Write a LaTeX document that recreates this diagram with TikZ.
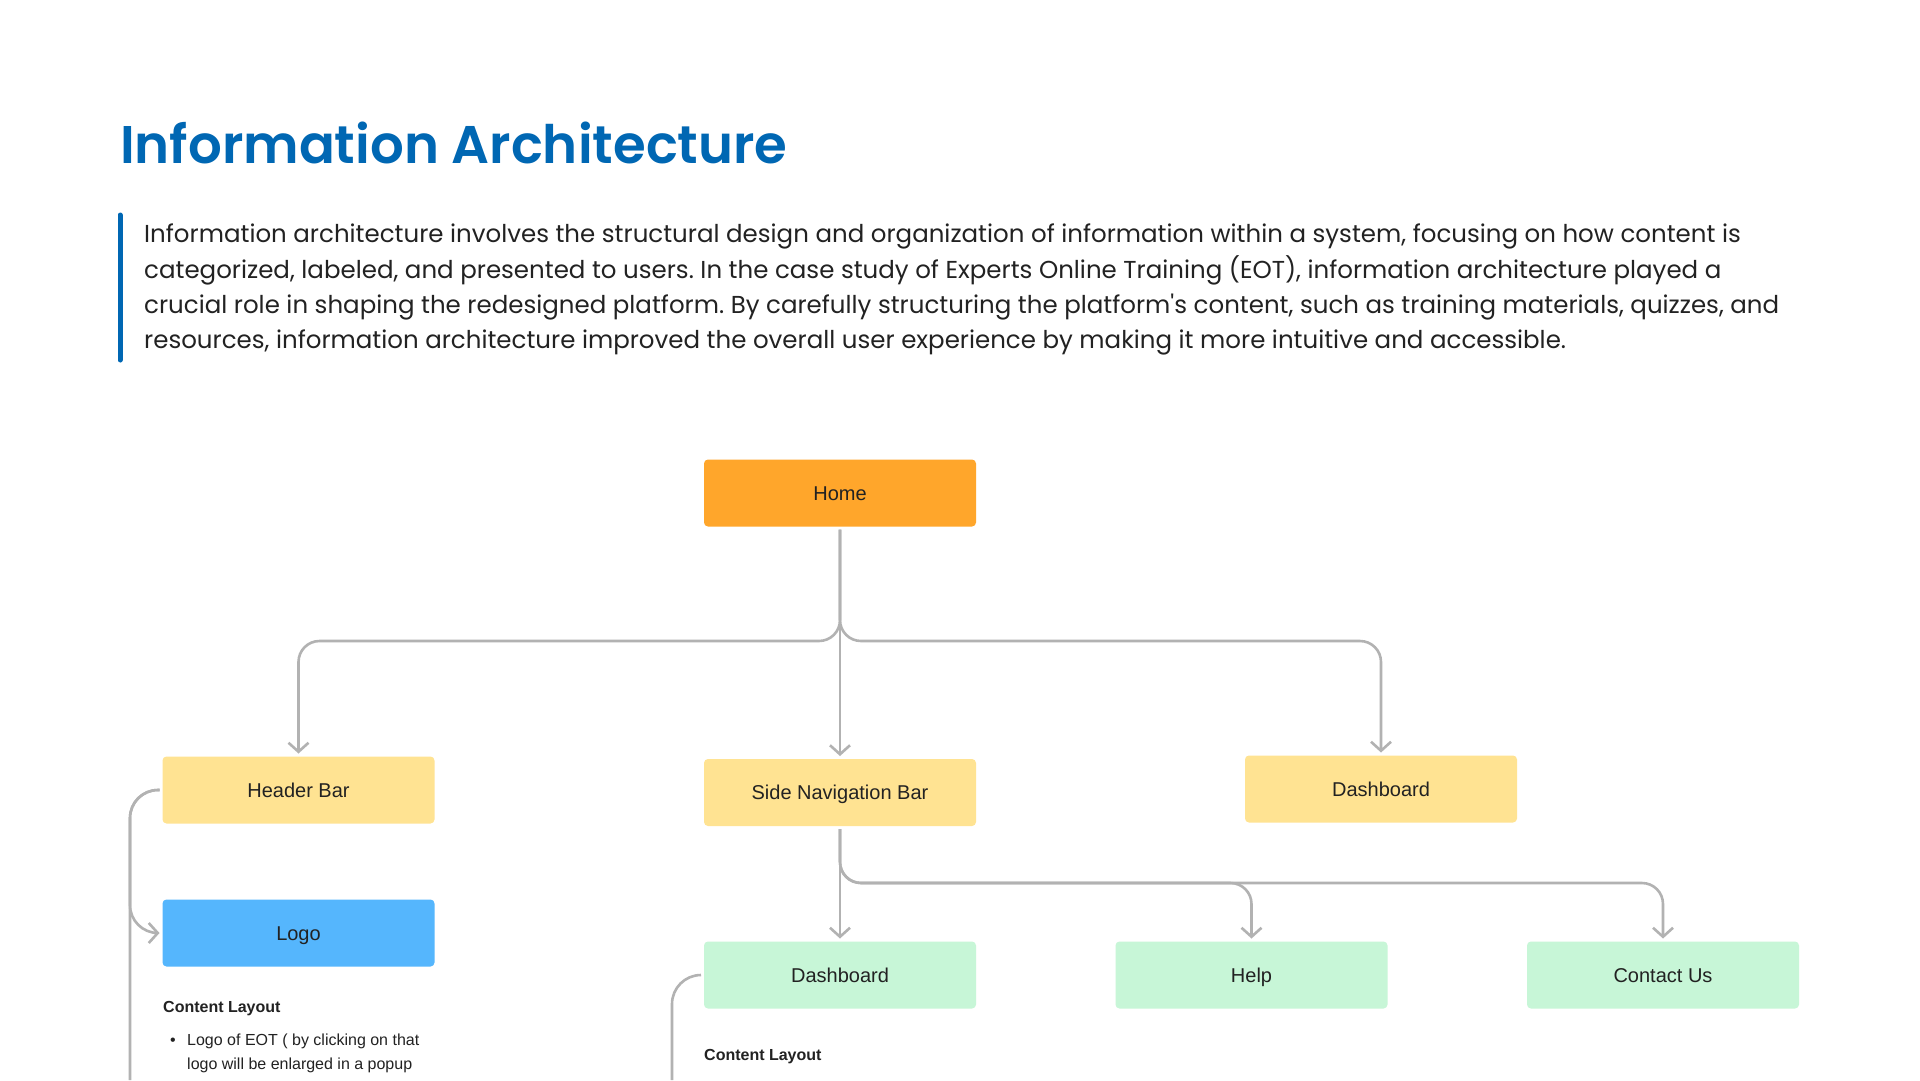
\documentclass[tikz,border=0pt]{standalone}
\usepackage{fontspec}
\setmainfont{Liberation Sans}
\newfontfamily\headfont{Poppins}
\newfontfamily\titlefont{Poppins SemiBold}
\usetikzlibrary{arrows.meta}
\definecolor{titleblue}{RGB}{0,103,179}
\definecolor{homeor}{RGB}{255,166,43}
\definecolor{yel}{RGB}{255,227,146}
\definecolor{blu}{RGB}{85,182,253}
\definecolor{grn}{RGB}{199,246,215}
\definecolor{conncol}{RGB}{178,178,178}
\definecolor{ink}{RGB}{34,34,34}
\frenchspacing
\begin{document}
\begin{tikzpicture}[x=1pt,y=-1pt,
  box/.style={rounded corners=4pt, minimum width=272pt, minimum height=67pt, inner sep=0pt, outer sep=3pt, text height=16pt, text depth=2pt, font=\fontsize{20}{24}\selectfont, text=ink},
  link/.style={draw=conncol, line width=2.6pt, rounded corners=21pt},
  tip/.style={-{Straight Barb[length=9pt,width=20pt]}},
  para/.style={anchor=base west, inner sep=0pt, font=\headfont\fontsize{24.5}{28}\selectfont, text=ink},
  small/.style={anchor=base west, inner sep=0pt, font=\fontsize{16}{19}\selectfont, text=ink}
]
\useasboundingbox (0,0) rectangle (1920,1080);
\fill[white] (0,0) rectangle (1920,1080);

% title and intro
\node[anchor=base west, inner sep=0pt, font=\titlefont\fontsize{53}{58}\selectfont, text=titleblue] (title) at (120,163) {Information Architecture};
\draw[titleblue, line width=5pt, line cap=round] (120,215) -- (120,360);
\node[para] (p1) at (144,242) {Information architecture involves the structural design and organization of information within a system, focusing on how content is};
\node[para] (p2) at (144,278) {categorized, labeled, and presented to users. In the case study of Experts Online Training (EOT), information architecture played a};
\node[para] (p3) at (144,313) {crucial role in shaping the redesigned platform. By carefully structuring the platform's content, such as training materials, quizzes, and};
\node[para] (p4) at (144,348) {resources, information architecture improved the overall user experience by making it more intuitive and accessible.};

% boxes
\node[box, fill=homeor] (home) at (840,493) {Home};
\node[box, fill=yel] (hb) at (298.5,790) {Header Bar};
\node[box, fill=blu] (logo) at (298.5,933) {Logo};
\node[box, fill=yel] (sn) at (840,792.5) {Side Navigation Bar};
\node[box, fill=yel] (dtop) at (1381,789) {Dashboard};
\node[box, fill=grn] (dash) at (840,975) {Dashboard};
\node[box, fill=grn] (help) at (1251.5,975) {Help};
\node[box, fill=grn] (contact) at (1663,975) {Contact Us};

% helper coordinates
\coordinate (busA) at (0,641);
\coordinate (busB) at (0,883);
\coordinate (lx) at (130,1080);
\coordinate (dx) at (672,1080);

% connectors
\draw[link,tip] (home.south) -- (home.south |- busA) -| (hb.north);
\draw[link,tip] (home.south) -- (home.south |- busA) -| (dtop.north);
\draw[link,tip] (home.south) -- (sn.north);
\draw[link,tip] (sn.south) -- (dash.north);
\draw[link,tip] (sn.south) -- (sn.south |- busB) -| (help.north);
\draw[link,tip] (sn.south) -- (sn.south |- busB) -| (contact.north);
\draw[link,rounded corners=28pt] (hb.west) -| (lx);
\draw[link,tip,rounded corners=28pt] (hb.west) -| (logo.west -| lx) -- (logo.west);
\draw[link,rounded corners=29pt] (dash.west) -| (dx);

% content layout notes
\node[small, font=\bfseries\fontsize{16}{19}\selectfont] (cl1) at (163,1012) {Content Layout};
\node[small] (bul) at (170,1045) {\textbullet};
\node[small] (b1) at (187,1045) {Logo of EOT ( by clicking on that};
\node[small] (b2) at (187,1069) {logo will be enlarged in a popup};
\node[small, font=\bfseries\fontsize{16}{19}\selectfont] (cl2) at (704,1060) {Content Layout};
\end{tikzpicture}
\end{document}
